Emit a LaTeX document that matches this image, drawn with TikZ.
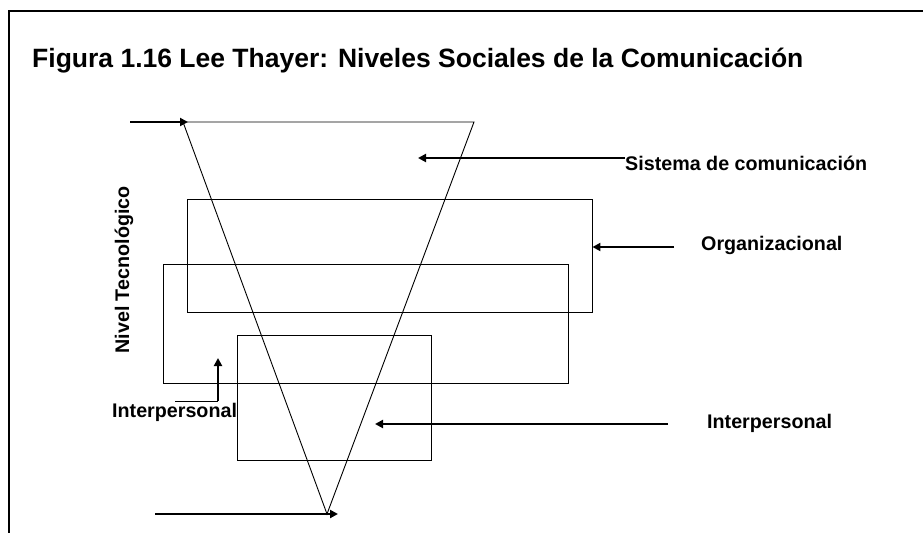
\documentclass[tikz,border=0pt]{standalone}
\usepackage{fontspec}
\setmainfont{Liberation Sans}
\usepackage{tikz}
\usetikzlibrary{arrows.meta}

\begin{document}
\begin{tikzpicture}[x=1pt,y=-1pt]
  \tikzstyle{box}=[draw, line width=0.9pt, inner sep=0pt]
  \tikzstyle{lbl}=[font=\fontsize{19.7}{23}\selectfont\bfseries, inner sep=0pt]
  \tikzstyle{arr}=[line width=2.4pt, -{Triangle[length=8pt,width=8pt]}]
  \useasboundingbox (0,0) rectangle (923,533);

  % frame
  \coordinate (f_tr) at (923,11);
  \coordinate (f_bl) at (9,533);
  \draw[line width=2pt] (f_tr) -| (f_bl);

  \node[font=\fontsize{26.5}{30}\selectfont\bfseries, anchor=base west, inner sep=0pt] (title) at (32,67)
    {Figura 1.16 Lee Thayer: Niveles Sociales de la Comunicación};

  % levels
  \node[box, minimum width=405, minimum height=119] (big) at (365.5,323.5) {};
  \node[box, minimum width=405, minimum height=113] (org) at (389.5,255.5) {};
  \node[box, minimum width=194, minimum height=125] (inter) at (334,397.5) {};

  % system triangle
  \coordinate (T_1) at (183,122);
  \coordinate (T_2) at (474,122);
  \coordinate (T_3) at (327,514);
  \draw[line width=0.9pt] (T_1) -- (T_2) -- (T_3) -- cycle;

  % labels
  \node[lbl, anchor=west] (sis) at (625,163) {Sistema de comunicación};
  \node[lbl, anchor=west] (orglbl) at (701,245) {Organizacional};
  \node[lbl, anchor=west] (intlbl) at (707,423) {Interpersonal};
  \node[lbl, anchor=west] (leftlbl) at (112,412) {Interpersonal};
  \node[lbl, rotate=90] (tec) at (124,270) {Nivel Tecnológico};

  % arrows
  \coordinate (A_in) at (130,122);
  \coordinate (A_out) at (155,514);
  \coordinate (S_end) at (418,158);
  \coordinate (O_start) at (674,247);
  \coordinate (I_start) at (668,424);
  \coordinate (I_end) at (375,424);
  \coordinate (L_1) at (175,401);
  \coordinate (L_2) at (218,401);
  \coordinate (L_3) at (218,358);

  \draw[arr] (A_in) -- ([xshift=5pt]T_1);
  \draw[arr] (A_out) -- ([xshift=11pt]T_3);
  \draw[arr] ([yshift=5pt]sis.west) -- (S_end);
  \draw[arr] (O_start) -- (O_start -| org.east);
  \draw[arr] (I_start) -- (I_end);
  \draw[line width=0.9pt] (L_1) -- (L_2);
  \draw[arr] (L_2) -- (L_3);
\end{tikzpicture}
\end{document}
